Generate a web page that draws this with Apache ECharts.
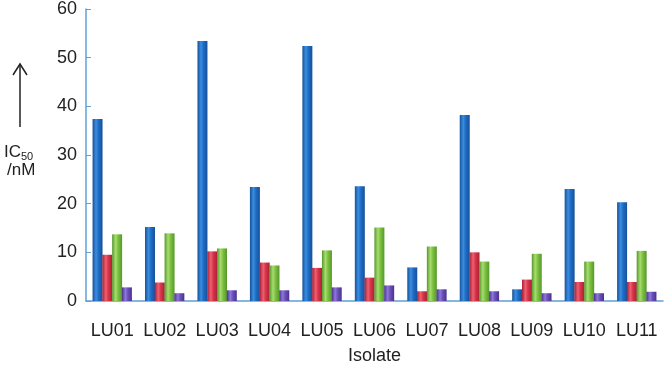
<!DOCTYPE html>
<html>
<head>
<meta charset="utf-8">
<script src="https://cdn.jsdelivr.net/npm/echarts@6/dist/echarts.min.js"></script>
<style>html,body{margin:0;padding:0;background:#fff}#c{width:664px;height:370px}</style>
</head>
<body>
<div id="c"></div>
<script>
var categories = ['LU01','LU02','LU03','LU04','LU05','LU06','LU07','LU08','LU09','LU10','LU11'];
var seriesBlue   = [37.4, 15.2, 53.4, 23.4, 52.4, 23.6, 6.9, 38.2, 2.4, 23.0, 20.3];
var seriesRed    = [9.5, 3.8, 10.2, 7.9, 6.8, 4.8, 2.0, 10.0, 4.4, 3.9, 3.9];
var seriesGreen  = [13.7, 13.9, 10.8, 7.3, 10.4, 15.1, 11.2, 8.1, 9.7, 8.1, 10.3];
var seriesPurple = [2.8, 1.6, 2.2, 2.2, 2.8, 3.2, 2.4, 2.0, 1.6, 1.6, 1.9];
var yTicks = [0, 10, 20, 30, 40, 50, 60];

function grad(dark, mid, light) {
  return new echarts.graphic.LinearGradient(0, 0, 1, 0, [
    {offset: 0, color: dark},
    {offset: 0.35, color: light},
    {offset: 0.6, color: mid},
    {offset: 1, color: dark}
  ]);
}
var font = 'Liberation Sans, Arial, sans-serif';
var chart = echarts.init(document.getElementById('c'));
function mk(name, data, dark, mid, light) {
  return {
    name: name, type: 'bar', data: data,
    barGap: '-2%', barCategoryGap: '25%',
    itemStyle: {color: grad(dark, mid, light)}
  };
}
chart.setOption({
  animation: false,
  grid: {left: 86, right: 1, top: 5, bottom: 68},
  xAxis: {
    type: 'category', data: categories,
    axisLine: {lineStyle: {color: '#5fa0d8', width: 1.5}},
    axisTick: {show: false},
    axisLabel: {color: '#222', fontSize: 18, fontFamily: font, margin: 21, interval: 0},
    name: 'Isolate', nameLocation: 'middle', nameGap: 46,
    nameTextStyle: {color: '#222', fontSize: 18, fontFamily: font}
  },
  yAxis: {
    type: 'value', min: yTicks[0], max: yTicks[yTicks.length - 1], interval: 10,
    axisLine: {show: true, lineStyle: {color: '#5fa0d8', width: 1.5}},
    axisTick: {show: true, inside: true, length: 5, lineStyle: {color: '#5fa0d8'}},
    splitLine: {show: false},
    axisLabel: {color: '#222', fontSize: 18, fontFamily: font, margin: 9}
  },
  series: [
    mk('A', seriesBlue, '#17509a', '#1f6cc4', '#3a8ee0'),
    mk('B', seriesRed, '#a82035', '#d8344a', '#ee6070'),
    mk('C', seriesGreen, '#55982a', '#7cc040', '#a8dc70'),
    mk('D', seriesPurple, '#4a3290', '#6a50b8', '#8f78d8')
  ],
  graphic: [
    {type: 'line', shape: {x1: 20, y1: 64, x2: 20, y2: 127}, style: {stroke: '#222', lineWidth: 1.5}},
    {type: 'polyline', shape: {points: [[13, 75], [20, 64], [27, 75]]}, style: {stroke: '#222', lineWidth: 1.5, fill: null}},
    {type: 'text', left: 4, top: 144, style: {
      text: '{a|IC}{b|50}', fontFamily: font,
      rich: {a: {fontSize: 17, fill: '#222', fontFamily: font}, b: {fontSize: 11, fill: '#222', fontFamily: font, padding: [8, 0, 0, 0]}}
    }},
    {type: 'text', left: 7, top: 162, style: {text: '/nM', fontSize: 17, fill: '#222', fontFamily: font}}
  ]
});
</script>
</body>
</html>
